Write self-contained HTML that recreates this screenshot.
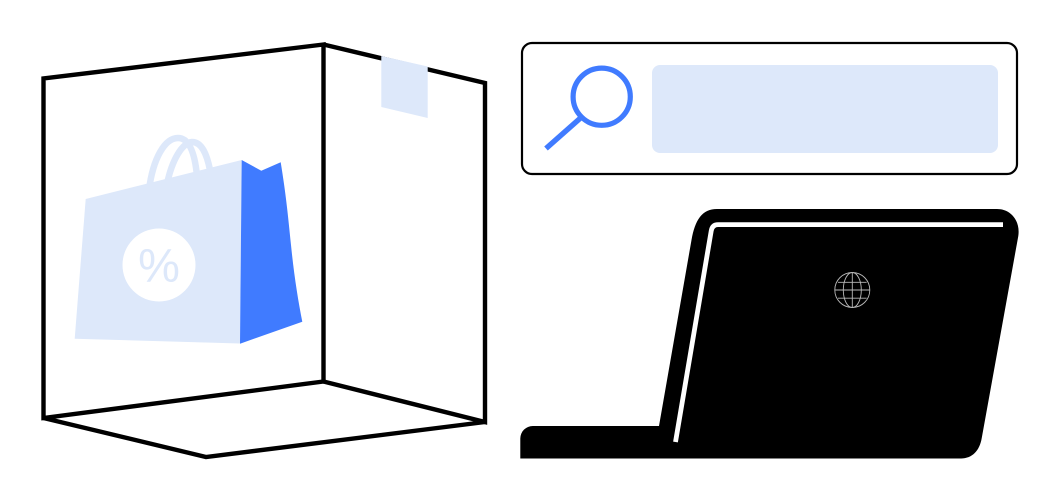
<!DOCTYPE html>
<html>
<head>
<meta charset="utf-8">
<style>
html,body{margin:0;padding:0;background:#fff;}
svg{display:block;}
</style>
</head>
<body>
<svg width="1060" height="500" viewBox="0 0 1060 500" xmlns="http://www.w3.org/2000/svg">
<rect width="1060" height="500" fill="#fff"/>
<!-- box -->
<g fill="none" stroke="#000" stroke-width="4.4" stroke-linejoin="miter">
<path d="M323.5 44.5 L43.5 78.5 V418 L323.5 381.5 Z"/>
<path d="M323.5 44.5 L485 83 V422 L323.5 381.5"/>
<path d="M43.5 418 L206 457 L485 422"/>
</g>
<path d="M381.3 56 L427.7 66.5 V118 L381.3 107 Z" fill="#dde8fa"/>
<!-- bag -->
<g fill="none" stroke="#dde8fa" stroke-width="6.5">
<path d="M149 190 C153 158 165 138 178 138 C190 138 195 155 197 176"/>
<path d="M167 184 C172 160 182 143 192 142 C202 142 207 155 210 170"/>
</g>
<path d="M85.7 199 L241.7 160 L240 343.5 L74.7 338.7 Z" fill="#dde8fa"/>
<path d="M241.7 160 L261.3 170.7 L280.7 162.3 C286 195 288 215 291 245 C294 275 298 300 302.3 321.7 L240 343.7 Z" fill="#407bff"/>
<circle cx="159" cy="265" r="36.5" fill="#fff"/>
<text x="159" y="281.5" text-anchor="middle" font-family="Liberation Sans, sans-serif" font-size="47" fill="#dde8fa">%</text>
<!-- search -->
<rect x="522" y="43" width="495" height="131" rx="10" ry="10" fill="#fff" stroke="#000" stroke-width="2.2"/>
<rect x="652" y="65" width="346" height="88" rx="8" ry="8" fill="#dde8fa"/>
<circle cx="601.7" cy="96.7" r="28.6" fill="none" stroke="#407bff" stroke-width="5.2"/>
<path d="M580.5 118 L546 148.5" fill="none" stroke="#407bff" stroke-width="5.4"/>
<!-- laptop -->
<path d="M520.3 458.5 V438.5 A12.5 12.5 0 0 1 532.8 426 H659 L691.5 240 C695 220 702 209 717 209 H997 C1011 209 1020.5 221 1018.3 236 L981.7 438.3 C979.5 451 972 458.5 961 458.5 Z" fill="#000"/>
<path d="M675.5 442 L711.2 231 Q712.2 224.6 718 224.6 H1003" fill="none" stroke="#fff" stroke-width="4.8"/>
<!-- globe -->
<g fill="none" stroke="#b8b8b8" stroke-width="0.9">
<circle cx="852.3" cy="290" r="17.5"/>
<ellipse cx="852.3" cy="290" rx="9" ry="17.5"/>
<path d="M852.3 272.5 V307.5 M834.8 290 H869.8 M838 282.3 H866.6 M838 298.2 H866.6"/>
</g>
</svg>
</body>
</html>
